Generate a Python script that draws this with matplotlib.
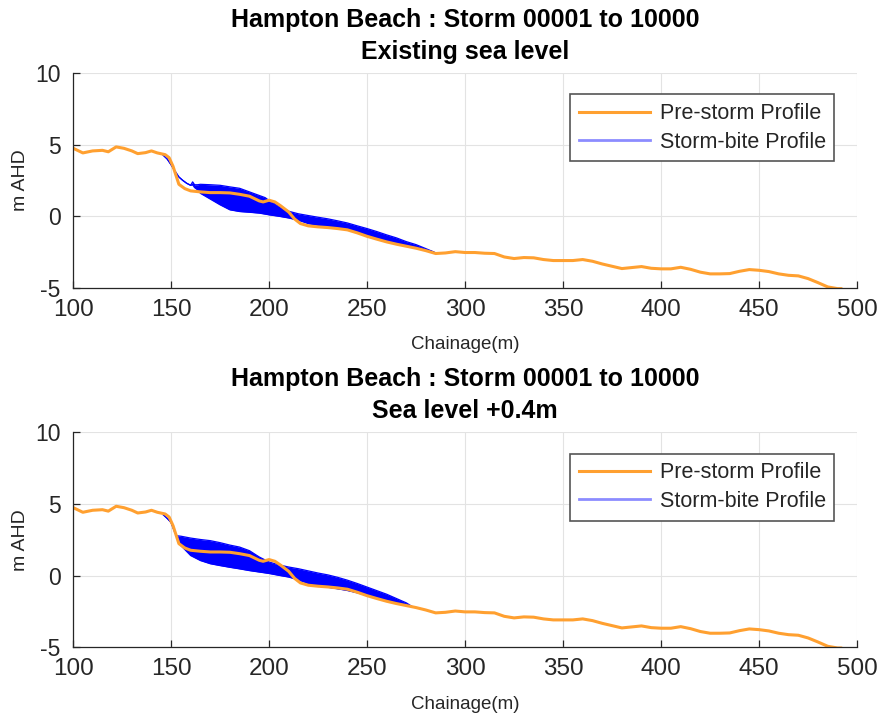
import numpy as np
import matplotlib
matplotlib.use("Agg")
import matplotlib.pyplot as plt
from matplotlib.lines import Line2D

plt.rcParams['font.family'] = ['Liberation Sans', 'DejaVu Sans']
plt.rcParams['axes.unicode_minus'] = False

# pre-storm profile (same in both panels)
chainage = [100, 105, 110, 115, 118, 122, 126, 130, 133, 137, 140, 143, 147, 149,
            151, 152.5, 154, 157, 160, 165, 170, 175, 180, 185, 190, 195, 197, 200,
            203, 206, 210, 213, 216, 220, 225, 230, 235, 240, 245, 250, 255, 260,
            265, 270, 275, 280, 285, 290, 295, 300, 305, 310, 315, 320, 325, 330,
            335, 340, 345, 350, 355, 360, 365, 370, 375, 380, 385, 390, 395, 400,
            405, 410, 415, 420, 425, 430, 435, 440, 445, 450, 455, 460, 465, 470,
            475, 480, 485, 490, 492]
pre_storm = [4.75, 4.42, 4.56, 4.6, 4.5, 4.84, 4.74, 4.56, 4.37, 4.44, 4.56, 4.42, 4.3, 4.09,
             3.49, 2.86, 2.23, 1.93, 1.77, 1.7, 1.65, 1.65, 1.63, 1.53, 1.4, 1.07, 1.0, 1.12,
             1.0, 0.72, 0.3, -0.19, -0.51, -0.67, -0.74, -0.79, -0.86, -0.95, -1.16, -1.4, -1.6, -1.79,
             -1.95, -2.09, -2.23, -2.4, -2.6, -2.56, -2.47, -2.53, -2.53, -2.58, -2.6, -2.84, -2.95, -2.88,
             -2.9, -3.02, -3.09, -3.09, -3.09, -3.02, -3.14, -3.33, -3.49, -3.65, -3.58, -3.51, -3.63, -3.67,
             -3.67, -3.56, -3.7, -3.9, -4.02, -4.02, -4.0, -3.84, -3.72, -3.77, -3.86, -4.02, -4.12, -4.16,
             -4.35, -4.63, -4.93, -5.05, -5.05]

# storm-bite envelope, existing sea level
bite1_x = [146, 148, 150, 152, 154, 156, 158, 160, 161, 162, 163.5, 165, 170, 175, 180, 185,
           190, 195, 198, 200, 205, 210, 215, 220, 225, 230, 235, 240, 245, 250, 255, 260,
           265, 270, 275, 280, 284]
bite1_hi = [4.26, 4.0, 3.6, 3.15, 2.74, 2.5, 2.3, 2.16, 2.4, 2.2, 2.2, 2.23, 2.2, 2.16, 2.05, 1.95,
            1.7, 1.45, 1.3, 1.1, 0.7, 0.35, 0.17, 0.05, -0.07, -0.18, -0.32, -0.47, -0.67, -0.86, -1.07, -1.3,
            -1.51, -1.77, -1.98, -2.26, -2.49]
bite1_lo = [4.26, 4.0, 3.6, 3.15, 2.74, 2.5, 2.3, 2.16, 2.2, 2.0, 1.85, 1.6, 1.2, 0.8, 0.45, 0.33,
            0.28, 0.22, 0.15, 0.1, 0.0, -0.12, -0.28, -0.51, -0.63, -0.74, -0.82, -0.9, -1.1, -1.33, -1.53, -1.74,
            -1.9, -2.05, -2.2, -2.33, -2.49]

# storm-bite envelope, sea level +0.4m
bite2_x = [146, 148, 150, 152, 153, 155, 160, 165, 170, 175, 180, 185, 190, 195, 200, 205,
           210, 215, 220, 225, 230, 235, 240, 245, 250, 255, 260, 265, 270, 273]
bite2_hi = [4.25, 4.0, 3.71, 3.0, 2.78, 2.75, 2.62, 2.52, 2.44, 2.3, 2.13, 1.99, 1.74, 1.3, 0.95, 0.75,
            0.6, 0.48, 0.33, 0.18, 0.05, -0.12, -0.32, -0.55, -0.8, -1.05, -1.3, -1.6, -1.9, -2.16]
bite2_lo = [4.25, 4.0, 3.71, 3.0, 2.75, 2.1, 1.4, 1.05, 0.83, 0.7, 0.58, 0.47, 0.35, 0.25, 0.15, 0.02,
            -0.1, -0.3, -0.55, -0.7, -0.81, -0.92, -1.04, -1.2, -1.39, -1.56, -1.74, -1.88, -2.02, -2.16]

subtitles = ["Existing sea level", "Sea level +0.4m"]
main_title = "Hampton Beach : Storm 00001 to 10000"

orange = '#ffa030'
dark = '#262626'

fig = plt.figure(figsize=(8.8, 7.18), dpi=100)
positions = [[0.083, 0.599, 0.891, 0.2994], [0.083, 0.0985, 0.891, 0.2994]]
bites = [(bite1_x, bite1_hi, bite1_lo), (bite2_x, bite2_hi, bite2_lo)]

for pos, (bx, bhi, blo), sub in zip(positions, bites, subtitles):
    ax = fig.add_axes(pos)
    ax.fill_between(bx, blo, bhi, color='blue', lw=0)
    ax.plot(bx, bhi, color='blue', lw=0.9)
    ax.plot(bx, blo, color='blue', lw=0.9)
    ax.plot(chainage, pre_storm, color=orange, lw=2.2, solid_capstyle='round')

    ax.set_xlim(100, 500)
    ax.set_ylim(-5, 10)
    ax.set_xticks(np.arange(100, 501, 50))
    ax.set_yticks([-5, 0, 5, 10])
    ax.grid(True, color='#e3e3e3', lw=0.8)
    ax.set_axisbelow(True)
    for s in ['top', 'right']:
        ax.spines[s].set_visible(False)
    for s in ['left', 'bottom']:
        ax.spines[s].set_color(dark)
        ax.spines[s].set_linewidth(0.9)
    ax.tick_params(direction='in', length=5, width=0.9, color=dark, labelcolor=dark)
    ax.tick_params(axis='x', labelsize=17.5, pad=8)
    ax.tick_params(axis='y', labelsize=16.5, pad=9)

    ax.set_title(main_title + "\n" + sub, fontsize=18, fontweight='bold', pad=10, linespacing=1.45)
    ax.set_xlabel("Chainage(m)", fontsize=13.5, color=dark, labelpad=11)
    ax.set_ylabel("m AHD", fontsize=14, color=dark, labelpad=4)

    handles = [Line2D([], [], color=orange, lw=2.2),
               Line2D([], [], color='blue', alpha=0.45, lw=2)]
    leg = ax.legend(handles, ["Pre-storm Profile", "Storm-bite Profile"],
                    loc='upper right', bbox_to_anchor=(0.971, 0.9), borderaxespad=0,
                    fontsize=15.5, handlelength=3.3, fancybox=False, framealpha=1,
                    edgecolor='#555555', borderpad=0.4, labelspacing=0.35, handletextpad=0.45)
    leg.get_frame().set_linewidth(1.2)
    for t in leg.get_texts():
        t.set_color(dark)

fig.savefig("out.png", dpi=100)
